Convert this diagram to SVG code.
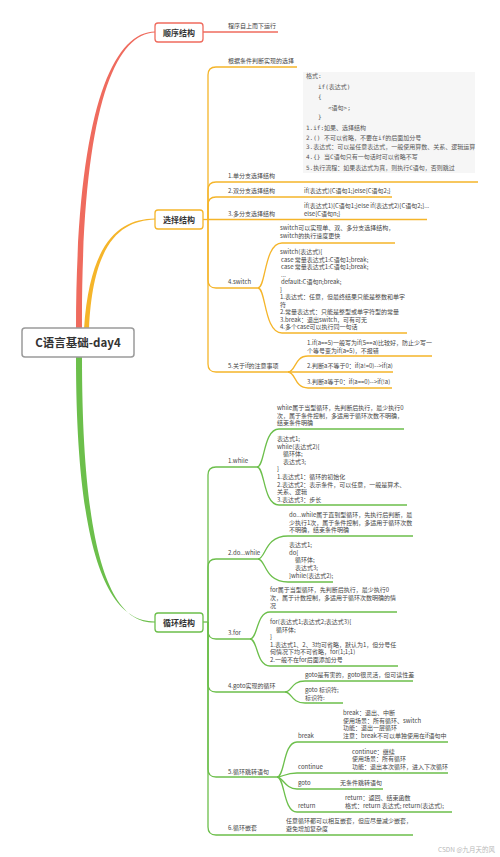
<svg xmlns="http://www.w3.org/2000/svg" width="500" height="857" viewBox="0 0 500 857">
<style>
.t{font-family:"Noto Sans CJK SC","Noto Sans",sans-serif;font-size:6px;fill:#444}
.m{font-family:"DejaVu Sans Mono","Noto Sans CJK SC",monospace;font-size:6px;fill:#555}
.b{font-family:"Noto Sans CJK SC","Noto Sans",sans-serif;font-size:8px;font-weight:bold;fill:#333;text-anchor:middle}
.rd{stroke:#ef6b5e;fill:none;stroke-width:1.3}
.or{stroke:#f5b52a;fill:none;stroke-width:1.3}
.gr{stroke:#6cbf4b;fill:none;stroke-width:1.3}
.box{fill:#fff;stroke-width:1.3}
</style>
<rect width="500" height="857" fill="#fff"/>
<g id="connectors">
<path d="M76,329 C76,120 110,32 155,31.4 L155,32.6 C112,33.5 81,120 82,329 Z" fill="#ef6b5e"/>
<path d="M84,329 C90,240 120,219 155,218.4 L155,219.6 C122,221 93,240 89,329 Z" fill="#f5b52a"/>
<path d="M76,357 C76,560 110,622 155,621.4 L155,622.6 C112,623.5 82,560 82,357 Z" fill="#6cbf4b"/>
<path class="rd" d="M203,32 H278"/>
<g class="or">
<path d="M203,219.5 H208"/>
<path d="M208,219 V75 Q208,67 216,67 H297"/>
<path d="M208,219 V190 Q208,182 216,182 H478"/>
<path d="M208,219 V205 Q208,197 216,197 H392"/>
<path d="M208,219.5 H427"/>
<path d="M208,219 V280 Q208,288 216,288 H258"/>
<path d="M208,219 V364 Q208,372 216,372 H288"/>
<path d="M258,288 C266,288 264,243 282,243 H395"/>
<path d="M258,288 C266,288 264,333 282,333 H407"/>
<path d="M288,372 C296,372 294,356 308,356 H432"/>
<path d="M288,372 H393"/>
<path d="M288,372 C296,372 294,388 308,388 H392"/>
</g>
<g class="gr">
<path d="M203,622 H208"/>
<path d="M208,622 V475 Q208,467 216,467 H257"/>
<path d="M208,622 V567 Q208,559 216,559 H258"/>
<path d="M208,622 V631 Q208,639 216,639 H250"/>
<path d="M208,622 V684 Q208,692 216,692 H285"/>
<path d="M208,622 V769 Q208,777 216,777 H277"/>
<path d="M208,622 V827 Q208,835 216,835 H413"/>
<path d="M257,467 C265,467 263,429 279,429 H404"/>
<path d="M257,467 C265,467 263,505 279,505 H407"/>
<path d="M258,559 C266,559 264,536 288,536 H413"/>
<path d="M258,559 C266,559 264,582 288,582 H333"/>
<path d="M250,639 C258,639 256,612 270,612 H397"/>
<path d="M250,639 C258,639 256,666 270,666 H398"/>
<path d="M285,692 C292,692 291,681 305,681 H413"/>
<path d="M285,692 C292,692 291,703 305,703 H343"/>
<path d="M277,777 C285,777 283,742 297,742 H448"/>
<path d="M277,777 C283,777 285,773 297,773 H448"/>
<path d="M277,777 C283,777 285,789 297,789 H383"/>
<path d="M277,777 C285,777 283,812 297,812 H452"/>
</g>
</g>
<g id="root">
<rect x="22" y="328" width="112" height="29" rx="3" fill="#fff" stroke="#9a9a9a" stroke-width="1.5"/>
<text x="78" y="347" class="b" style="font-size:11.5px">C语言基础-day4</text>
</g>
<g id="shunxu">
<rect class="box" x="155" y="23" width="48" height="19" rx="3" stroke="#ef6b5e"/>
<text x="179" y="35.5" class="b">顺序结构</text>
<text x="228" y="28" class="t">程序自上而下运行</text>
</g>
<g id="xuanze">
<rect class="box" x="155" y="210" width="48" height="19" rx="3" stroke="#f5b52a"/>
<text x="179" y="222.5" class="b">选择结构</text>
</g>
<g id="xuanze-children">
<text x="228" y="63" class="t">根据条件判断实现的选择</text>
<rect x="303" y="72" width="172" height="101" fill="#f6f6f6"/>
<text class="m"><tspan x="306" y="78">格式:</tspan><tspan x="318" y="89">if(表达式)</tspan><tspan x="318" y="99">{</tspan><tspan x="328" y="110">&lt;语句&gt;;</tspan><tspan x="318" y="119">}</tspan><tspan x="306" y="130">1.if:如果、选择结构</tspan><tspan x="306" y="139.5">2.() 不可以省略，不要在if的后面加分号</tspan><tspan x="306" y="149">3.表达式：可以是任意表达式，一般使用算数、关系、逻辑运算</tspan><tspan x="306" y="159">4.{} 当C语句只有一句话时可以省略不写</tspan><tspan x="306" y="170">5.执行流程：如果表达式为真，则执行C语句，否则跳过</tspan></text>
<text x="228" y="178" class="t">1.单分支选择结构</text>
<text x="228" y="193" class="t">2.双分支选择结构</text>
<text x="304" y="193" class="t">if(表达式){C语句1;}else{C语句2;}</text>
<text x="228" y="215.5" class="t">3.多分支选择结构</text>
<text class="t"><tspan x="304" y="207.8">if(表达式1){C语句1;}else if(表达式2){C语句2;}...</tspan><tspan x="304" y="215.5">else{C语句n;}</tspan></text>
<text x="228" y="284" class="t">4.switch</text>
<text class="t"><tspan x="280" y="230">switch可以实现单、双、多分支选择结构，</tspan><tspan x="280" y="238">switch的执行速度更快</tspan></text>
<text class="t"><tspan x="280" y="254.3">switch(表达式){</tspan><tspan x="281" y="261.8">case 常量表达式1:C语句1;break;</tspan><tspan x="281" y="269.3">case 常量表达式1:C语句1;break;</tspan><tspan x="281" y="276.8">...</tspan><tspan x="281" y="284.3">default:C语句n;break;</tspan><tspan x="280" y="291.8">}</tspan><tspan x="280" y="299.3">1.表达式：任意，但最终结果只能是整数和单字</tspan><tspan x="280" y="306.8">符</tspan><tspan x="280" y="314.3">2.常量表达式：只能是整型或单字符型的常量</tspan><tspan x="280" y="321.8">3.break：退出switch，可有可无</tspan><tspan x="280" y="329.3">4.多个case可以执行同一句话</tspan></text>
<text x="228" y="368" class="t">5.关于if的注意事项</text>
<text class="t"><tspan x="307" y="345">1.if(a==5)一般写为if(5==a)比较好，防止少写一</tspan><tspan x="307" y="353">个等号变为if(a=5)，不报错</tspan></text>
<text x="307" y="368" class="t">2.判断a不等于0：if(a!=0)--&gt;if(a)</text>
<text x="307" y="384" class="t">3.判断a等于0：if(a==0)--&gt;if(!a)</text>
</g>
<g id="xunhuan">
<rect class="box" x="155" y="613" width="48" height="19" rx="3" stroke="#6cbf4b"/>
<text x="179" y="625.5" class="b">循环结构</text>
</g>
<g id="xunhuan-children">
<text x="228" y="463" class="t">1.while</text>
<text class="t"><tspan x="277" y="410">while属于当型循环，先判断后执行，最少执行0</tspan><tspan x="277" y="417.6">次，属于条件控制，多适用于循环次数不明确，</tspan><tspan x="277" y="425.2">结束条件明确</tspan></text>
<text class="t"><tspan x="277" y="441">表达式1;</tspan><tspan x="277" y="448.6">while(表达式2){</tspan><tspan x="283" y="456.2">循环体;</tspan><tspan x="283" y="463.8">表达式3;</tspan><tspan x="277" y="471.4">}</tspan><tspan x="277" y="479">1.表达式1：循环的初始化</tspan><tspan x="277" y="486.6">2.表达式2：表示条件，可以任意，一般是算术、</tspan><tspan x="277" y="494.2">关系、逻辑</tspan><tspan x="277" y="501.8">3.表达式3：步长</tspan></text>
<text x="228" y="555" class="t">2.do...while</text>
<text class="t"><tspan x="289" y="517">do...while属于直到型循环，先执行后判断，最</tspan><tspan x="289" y="524.6">少执行1次，属于条件控制，多适用于循环次数</tspan><tspan x="289" y="532.2">不明确，结束条件明确</tspan></text>
<text class="t"><tspan x="289" y="547">表达式1;</tspan><tspan x="289" y="554.7">do{</tspan><tspan x="295" y="562.4">循环体;</tspan><tspan x="295" y="570.1">表达式3;</tspan><tspan x="289" y="577.8">}while(表达式2);</tspan></text>
<text x="228" y="635" class="t">3.for</text>
<text class="t"><tspan x="270" y="592">for属于当型循环，先判断后执行，最少执行0</tspan><tspan x="270" y="600">次，属于计数控制，多适用于循环次数明确的情</tspan><tspan x="270" y="608">况</tspan></text>
<text class="t"><tspan x="270" y="624">for(表达式1;表达式2;表达式3){</tspan><tspan x="276" y="631.6">循环体;</tspan><tspan x="270" y="639.2">}</tspan><tspan x="270" y="646.8">1.表达式1、2、3均可省略，默认为1，但分号任</tspan><tspan x="270" y="654.4">何情况下均不可省略，for(1;1;1)</tspan><tspan x="270" y="662">2.一般不在for后面添加分号</tspan></text>
<text x="228" y="688" class="t">4.goto实现的循环</text>
<text x="305" y="677" class="t">goto是有害的，goto很灵活，但可读性差</text>
<text class="t"><tspan x="305" y="692.4">goto 标识符;</tspan><tspan x="305" y="700">标识符:</tspan></text>
<text x="228" y="774" class="t">5.循环跳转语句</text>
<text x="298" y="738" class="t">break</text>
<text class="t"><tspan x="343" y="715.2">break：退出、中断</tspan><tspan x="343" y="722.8">使用场景：所有循环、switch</tspan><tspan x="343" y="730.4">功能：退出一层循环</tspan><tspan x="343" y="738">注意：break不可以单独使用在if语句中</tspan></text>
<text x="298" y="769" class="t">continue</text>
<text class="t"><tspan x="352" y="753.8">continue：继续</tspan><tspan x="352" y="761.4">使用场景：所有循环</tspan><tspan x="352" y="769">功能：退出本次循环，进入下次循环</tspan></text>
<text x="298" y="785" class="t">goto</text>
<text x="340" y="785" class="t">无条件跳转语句</text>
<text x="298" y="808" class="t">return</text>
<text class="t"><tspan x="345" y="800.4">return：返回、结束函数</tspan><tspan x="345" y="808">格式：return 表达式; return(表达式);</tspan></text>
<text x="228" y="830" class="t">6.循环嵌套</text>
<text class="t"><tspan x="286" y="823.4">任意循环都可以相互嵌套，但应尽量减少嵌套，</tspan><tspan x="286" y="831">避免增加复杂度</tspan></text>
</g>
<text x="438" y="852" class="t" style="fill:#b8b8b8;font-size:6.5px">CSDN @九月天的风</text>
</svg>
